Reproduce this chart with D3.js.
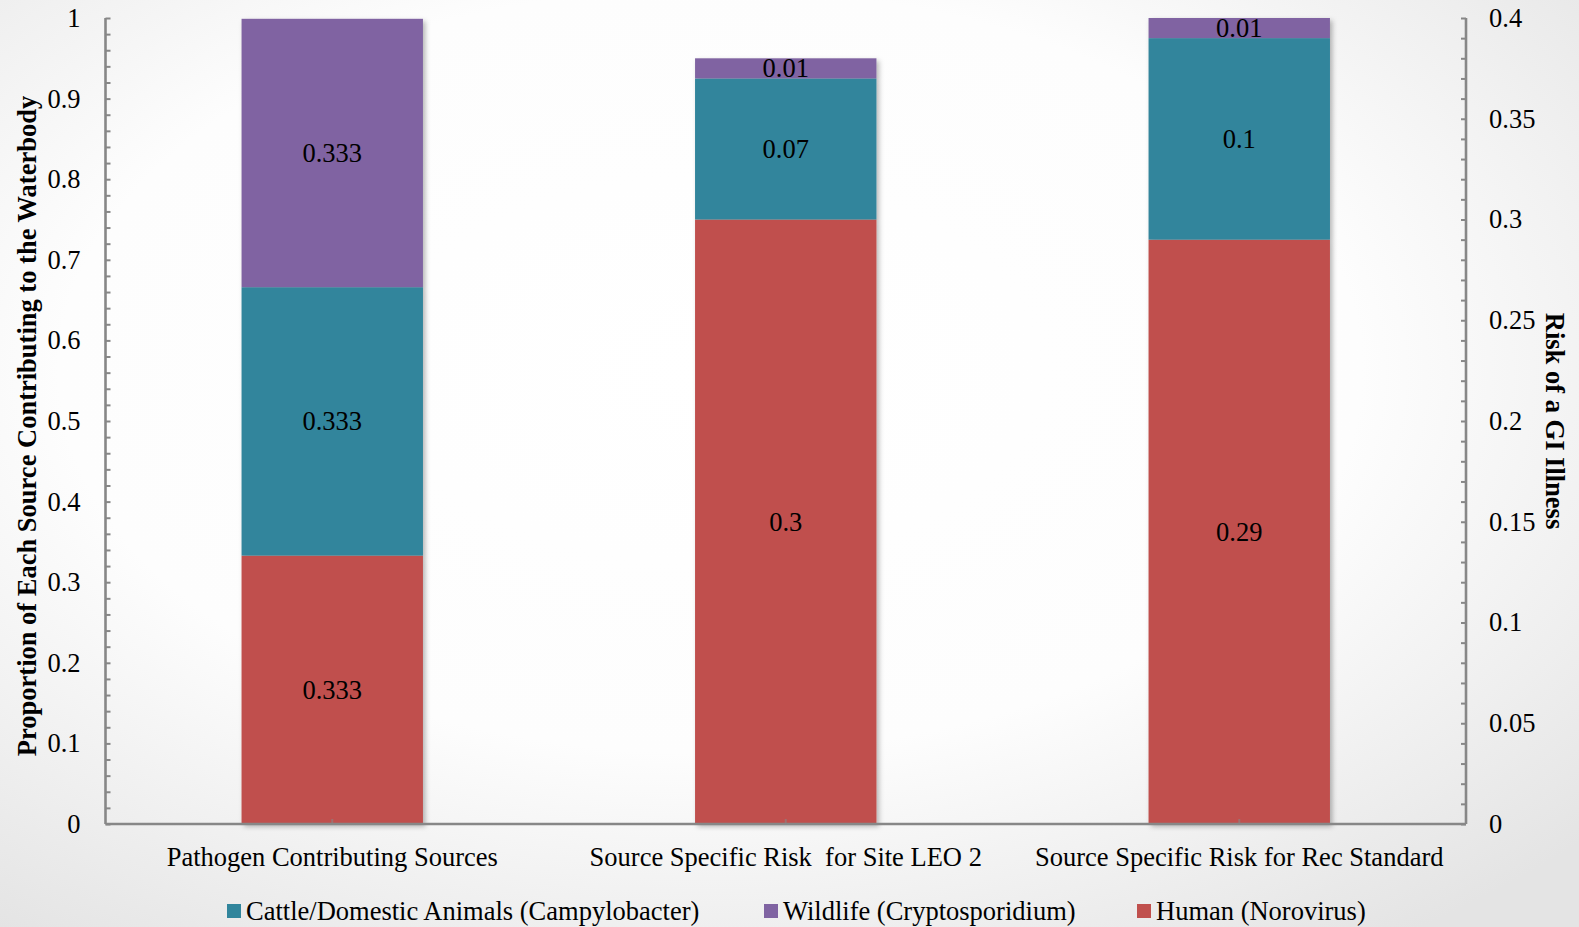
<!DOCTYPE html>
<html><head><meta charset="utf-8">
<script src="https://cdn.jsdelivr.net/npm/d3@7"></script>
<style>
html,body{margin:0;padding:0;overflow:hidden;}
svg{display:block;font-family:"Liberation Serif","Times New Roman",serif;}
text{white-space:pre;}
</style></head>
<body>
<svg id="chart" width="1579" height="927"></svg>
<script>
const categories = ["Pathogen Contributing Sources", "Source Specific Risk  for Site LEO 2", "Source Specific Risk for Rec Standard"];
const axisFor = ["left", "right", "right"];
const human = [0.333, 0.3, 0.29];
const cattle = [0.333, 0.07, 0.1];
const wildlife = [0.333, 0.01, 0.01];
const leftTicks = [0, 0.1, 0.2, 0.3, 0.4, 0.5, 0.6, 0.7, 0.8, 0.9, 1];
const rightTicks = [0, 0.05, 0.1, 0.15, 0.2, 0.25, 0.3, 0.35, 0.4];
const seriesNames = ["Human (Norovirus)", "Cattle/Domestic Animals (Campylobacter)", "Wildlife (Cryptosporidium)"];
const seriesColors = ["#C0504D", "#31859C", "#8064A2"];
const legendOrder = [1, 2, 0];
const leftTitle = "Proportion of Each Source Contributing to the Waterbody";
const rightTitle = "Risk of a GI Illness";

const W = 1579, H = 927;
const FS = 26.5;
const m = {left: 105.5, right: 1466, top: 18, bottom: 824};
const svg = d3.select("#chart");
const defs = svg.append("defs");
const rg = defs.append("radialGradient").attr("id","bg").attr("cx","45%").attr("cy","40%").attr("r","75%");
rg.append("stop").attr("offset","0%").attr("stop-color","#ffffff");
rg.append("stop").attr("offset","55%").attr("stop-color","#fdfdfd");
rg.append("stop").attr("offset","100%").attr("stop-color","#e4e4e4");
const f = defs.append("filter").attr("id","shadow").attr("x","-10%").attr("y","-10%").attr("width","130%").attr("height","130%");
f.append("feDropShadow").attr("dx",2.5).attr("dy",2.5).attr("stdDeviation",2.5).attr("flood-color","#000").attr("flood-opacity",0.28);

svg.append("rect").attr("width",W).attr("height",H).attr("fill","url(#bg)");

const x = d3.scaleBand().domain(categories).range([m.left, m.right]).paddingInner(0.6).paddingOuter(0.3);
const yL = d3.scaleLinear().domain([0,1]).range([m.bottom, m.top]);
const yR = d3.scaleLinear().domain([0,0.4]).range([m.bottom, m.top]);

const stackData = categories.map((c,i)=>({cat:c, axis:axisFor[i], vals:[human[i], cattle[i], wildlife[i]]}));
const fmt = v => String(v);

// bars
const gBars = svg.append("g");
stackData.forEach(d=>{
  const ys = d.axis==="left" ? yL : yR;
  let acc = 0;
  const g = gBars.append("g").attr("filter","url(#shadow)");
  d.vals.forEach((v,k)=>{
    g.append("rect").attr("x",x(d.cat)).attr("width",x.bandwidth())
      .attr("y",ys(acc+v)).attr("height",ys(acc)-ys(acc+v)).attr("fill",seriesColors[k]);
    acc += v;
  });
});
// labels
stackData.forEach(d=>{
  const ys = d.axis==="left" ? yL : yR;
  let acc = 0;
  d.vals.forEach((v,k)=>{
    svg.append("text").attr("x",x(d.cat)+x.bandwidth()/2).attr("y",ys(acc+v/2))
      .attr("text-anchor","middle").attr("dominant-baseline","central")
      .attr("font-size",FS).attr("fill","#000").text(fmt(v));
    acc += v;
  });
});

const axisColor = "#878787";
// left axis
const gl = svg.append("g").attr("transform",`translate(${m.left},0)`);
gl.call(d3.axisRight(yL).tickValues(d3.range(0,1.0001,0.02)).tickSize(5).tickFormat(""));
gl.selectAll("line").attr("stroke",axisColor).attr("stroke-width",2);
gl.select(".domain").attr("stroke",axisColor).attr("stroke-width",2.6).attr("d",`M0,${m.top}V${m.bottom}`);
const glL = svg.append("g").attr("transform",`translate(${m.left},0)`);
glL.call(d3.axisLeft(yL).tickValues(leftTicks).tickSize(0).tickPadding(25).tickFormat(d=>String(d)));
glL.select(".domain").remove();
glL.selectAll("text").attr("font-size",FS).attr("font-family","Liberation Serif").attr("fill","#000");

// right axis
const gr = svg.append("g").attr("transform",`translate(${m.right},0)`);
gr.call(d3.axisLeft(yR).tickValues(d3.range(0,0.40001,0.01)).tickSize(5).tickFormat(""));
gr.selectAll("line").attr("stroke",axisColor).attr("stroke-width",2);
gr.select(".domain").attr("stroke",axisColor).attr("stroke-width",2.6).attr("d",`M0,${m.top}V${m.bottom}`);
const grL = svg.append("g").attr("transform",`translate(${m.right},0)`);
grL.call(d3.axisRight(yR).tickValues(rightTicks).tickSize(0).tickPadding(23).tickFormat(d=>String(d)));
grL.select(".domain").remove();
grL.selectAll("text").attr("font-size",FS).attr("font-family","Liberation Serif").attr("fill","#000");

// bottom axis
const gb = svg.append("g").attr("transform",`translate(0,${m.bottom})`);
gb.call(d3.axisTop(x).tickSize(5).tickFormat(""));
gb.selectAll("line").attr("stroke",axisColor).attr("stroke-width",2).attr("opacity",0.6);
gb.select(".domain").attr("stroke",axisColor).attr("stroke-width",2.6).attr("d",`M${m.left},0H${m.right}`);
const gbL = svg.append("g").attr("transform",`translate(0,${m.bottom})`);
gbL.call(d3.axisBottom(x).tickSize(0).tickPadding(23));
gbL.select(".domain").remove();
gbL.selectAll("text").attr("font-size",FS).attr("font-family","Liberation Serif").attr("fill","#000").attr("dy","0.71em");

// titles
svg.append("text").attr("transform",`translate(27,${(m.top+m.bottom)/2+5}) rotate(-90)`)
  .attr("text-anchor","middle").attr("dominant-baseline","central")
  .attr("font-size",FS).attr("font-weight","bold").text(leftTitle);
svg.append("text").attr("transform",`translate(1555,${(m.top+m.bottom)/2}) rotate(90)`)
  .attr("text-anchor","middle").attr("dominant-baseline","central")
  .attr("font-size",FS).attr("font-weight","bold").text(rightTitle);

// legend
const legendX = [227, 764, 1137];
const gLeg = svg.append("g").attr("transform","translate(0,911)");
legendOrder.forEach((k,i)=>{
  const gi = gLeg.append("g").attr("transform",`translate(${legendX[i]},0)`);
  gi.append("rect").attr("x",0).attr("y",-7).attr("width",14).attr("height",14).attr("fill",seriesColors[k]);
  gi.append("text").attr("x",19).attr("y",0).attr("dominant-baseline","central")
    .attr("font-size",FS).text(seriesNames[k]);
});
</script>
</body></html>
